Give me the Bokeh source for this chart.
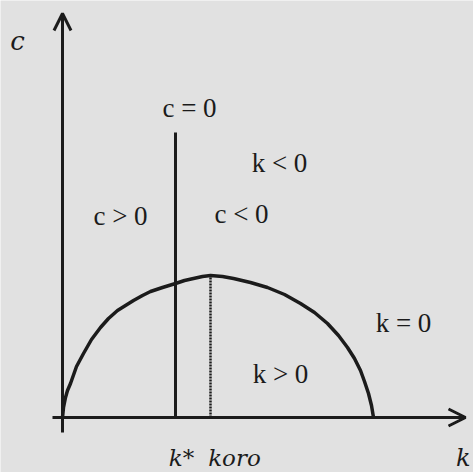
from bokeh.plotting import figure
from bokeh.models import Range1d, Arrow, OpenHead, ColumnDataSource
from bokeh.core.properties import value
from bokeh.embed import file_html
from bokeh.resources import INLINE

# Capital stock k and consumption c along the k-dot = 0 locus
locus_k = [0, 1, 3, 5, 8, 14, 21, 29, 38, 46, 55, 63, 71, 80, 88, 100, 113, 122, 131, 140, 148,
           160, 171, 188, 205, 222, 238, 252, 265, 276, 285, 292, 298, 302, 306, 309, 311]
locus_c = [0, 10, 20, 27, 34, 51, 64, 78, 90, 99, 107, 112, 117, 122, 126, 130, 134, 137, 139, 141, 142,
           141, 139, 135, 130, 123, 114, 105, 94, 82, 70, 59, 47, 36, 24, 12, 0]

k_star = 113      # c-dot = 0 locus
k_gold = 148      # koro (golden-rule capital)
c_dot_top = 285

region_labels = ["c = 0", "k < 0", "c > 0", "c < 0", "k = 0", "k > 0"]
region_k = [127, 217, 58, 179, 341, 218]
region_c = [310, 255, 202, 204, 95, 44]

axis_labels = ["k*", "koro"]
axis_label_k = [k_star + 6, k_gold + 24]

INK = "#1b1b1b"
BG = "#e1e1e1"
SERIF = "Liberation Serif"
SERIF_ITALIC = "DejaVu Serif"

p = figure(width=473, height=472, output_backend="svg", toolbar_location=None,
           x_range=Range1d(-62, 411), y_range=Range1d(-55, 417),
           min_border=0, background_fill_color=BG, border_fill_color=BG,
           outline_line_color=None)
p.axis.visible = False
p.grid.visible = False

# axes with open arrowheads
p.add_layout(Arrow(end=OpenHead(size=17, line_width=3, line_color=INK),
                   x_start=0, y_start=-15, x_end=0, y_end=404,
                   line_width=3, line_color=INK))
p.add_layout(Arrow(end=OpenHead(size=17, line_width=3, line_color=INK),
                   x_start=-10, y_start=0, x_end=403, y_end=0,
                   line_width=3, line_color=INK))

# k-dot = 0 hump
p.line(locus_k, locus_c, line_width=3.5, line_color=INK, line_join="round")

# c-dot = 0 vertical at k*
p.line([k_star, k_star], [0, c_dot_top], line_width=3, line_color=INK)

# dotted line at golden-rule capital
top_gold = locus_c[locus_k.index(k_gold)]
p.line([k_gold, k_gold], [0, top_gold], line_width=2.5, line_color=INK, line_dash="2 1")

# phase-region labels
src = ColumnDataSource(dict(k=region_k, c=region_c, t=region_labels))
p.text(x="k", y="c", text="t", source=src, text_font=value(SERIF),
       text_font_size="27px", text_color=INK,
       text_align="center", text_baseline="middle")

# axis names and marked capital levels
p.text(x=[-45], y=[377], text=["c"], text_font=value(SERIF_ITALIC), text_font_size="26px",
       text_font_style="italic", text_color=INK, text_align="center", text_baseline="middle")
p.text(x=axis_label_k, y=[-40, -40], text=axis_labels,
       text_font=value(SERIF_ITALIC), text_font_size="23px", text_font_style="italic",
       text_color=INK, text_align="center", text_baseline="middle")
p.text(x=[408], y=[-40], text=["k"],
       text_font=value(SERIF_ITALIC), text_font_size="24px", text_font_style="italic",
       text_color=INK, text_align="right", text_baseline="middle")

open("out.html", "w").write(file_html(p, INLINE))
